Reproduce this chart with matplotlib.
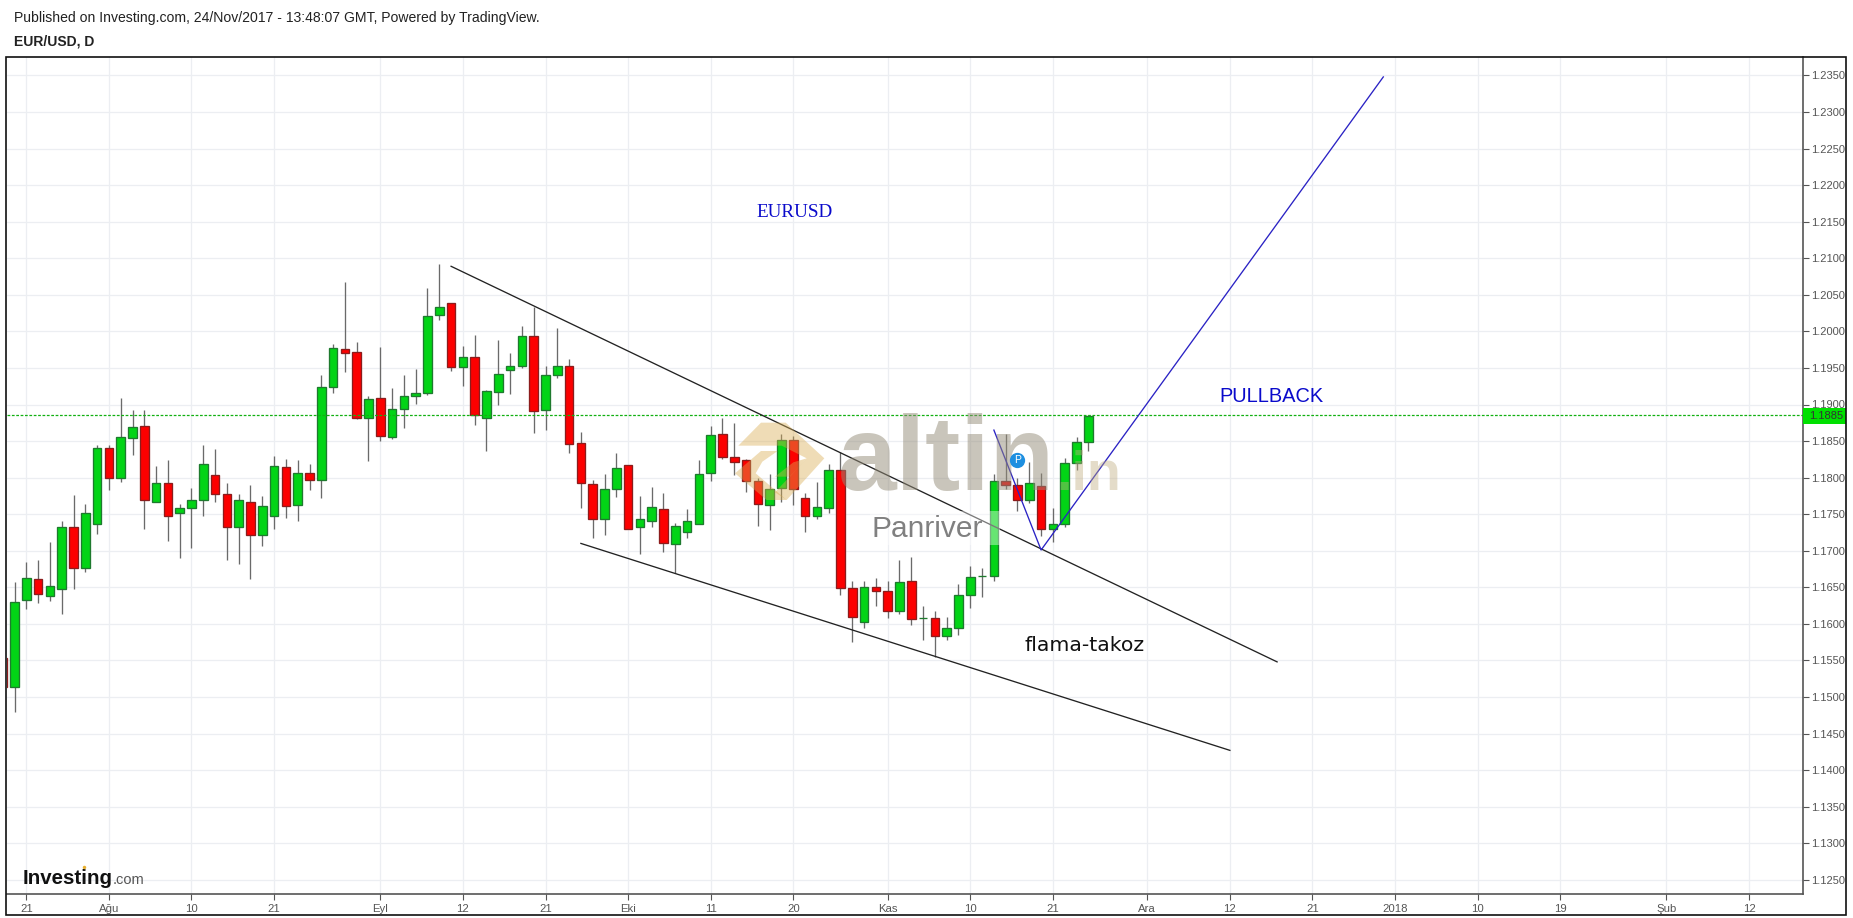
import matplotlib
matplotlib.use("Agg")
import matplotlib.pyplot as plt
from matplotlib.patches import Rectangle, Polygon

W, H = 1853, 918
plt.rcParams['font.family'] = ['Liberation Sans', 'DejaVu Sans']

first_bar = -1
opens = [1.1553,1.1513,1.1633,1.1661,1.1638,1.1648,1.1733,1.1676,1.1736,1.1840,1.1800,1.1854,1.1870,1.1766,1.1793,1.1751,1.1758,1.1770,1.1803,1.1778,1.1733,1.1766,1.1722,1.1748,1.1814,1.1762,1.1806,1.1797,1.1924,1.1976,1.1972,1.1882,1.1909,1.1856,1.1894,1.1912,1.1916,1.2022,1.2039,
         1.1951,1.1965,1.1882,1.1917,1.1947,1.1953,1.1993,1.1893,1.1940,1.1952,1.1847,1.1791,1.1744,1.1785,1.1817,1.1732,1.1741,1.1757,1.1709,1.1726,1.1737,1.1807,1.1860,1.1828,1.1824,1.1796,1.1763,1.1786,1.1852,1.1772,1.1748,1.1759,1.1810,1.1649,1.1603,1.1650,1.1645,1.1617,1.1658,1.1608,1.1608,1.1584,1.1595,1.1640,1.1665,1.1666,1.1796,1.1790,1.1770,1.1788,1.1730,1.1737,1.1820,1.1849]
highs = [1.1560,1.1657,1.1684,1.1688,1.1712,1.1741,1.1776,1.1764,1.1845,1.1845,1.1909,1.1893,1.1892,1.1816,1.1824,1.1764,1.1786,1.1845,1.1839,1.1793,1.1778,1.1790,1.1775,1.1830,1.1825,1.1824,1.1819,1.1941,1.1983,1.2067,1.1985,1.1912,1.1979,1.1922,1.1940,1.1949,1.2059,1.2092,1.2039,
         1.1980,1.1995,1.1920,1.1988,1.1970,1.2007,1.2033,1.1953,1.2005,1.1962,1.1862,1.1797,1.1805,1.1833,1.1817,1.1775,1.1787,1.1779,1.1738,1.1757,1.1824,1.1870,1.1881,1.1875,1.1825,1.1800,1.1805,1.1859,1.1857,1.1779,1.1794,1.1819,1.1835,1.1659,1.1659,1.1663,1.1659,1.1688,1.1691,1.1624,1.1617,1.1610,1.1655,1.1679,1.1676,1.1805,1.1860,1.1800,1.1822,1.1807,1.1759,1.1827,1.1856,1.1885]
lows = [1.1510,1.1479,1.1620,1.1628,1.1631,1.1613,1.1648,1.1671,1.1723,1.1783,1.1794,1.1831,1.1730,1.1766,1.1714,1.1690,1.1704,1.1747,1.1767,1.1688,1.1682,1.1662,1.1707,1.1730,1.1745,1.1741,1.1783,1.1772,1.1916,1.1945,1.1880,1.1823,1.1850,1.1853,1.1868,1.1901,1.1913,1.2015,1.1946,
        1.1925,1.1872,1.1837,1.1900,1.1915,1.1950,1.1861,1.1865,1.1936,1.1833,1.1758,1.1717,1.1721,1.1773,1.1730,1.1696,1.1733,1.1698,1.1670,1.1718,1.1737,1.1795,1.1826,1.1804,1.1781,1.1734,1.1729,1.1767,1.1763,1.1725,1.1743,1.1752,1.1640,1.1575,1.1594,1.1625,1.1608,1.1613,1.1599,1.1578,1.1555,1.1578,1.1585,1.1622,1.1637,1.1659,1.1784,1.1755,1.1765,1.1720,1.1712,1.1733,1.1811,1.1836]
closes = [1.1514,1.1630,1.1663,1.1641,1.1652,1.1733,1.1676,1.1751,1.1841,1.1800,1.1855,1.1869,1.1770,1.1793,1.1748,1.1758,1.1770,1.1819,1.1778,1.1733,1.1769,1.1722,1.1761,1.1816,1.1761,1.1806,1.1797,1.1924,1.1977,1.1970,1.1882,1.1908,1.1857,1.1894,1.1912,1.1916,1.2021,1.2033,1.1951,
          1.1965,1.1885,1.1918,1.1942,1.1953,1.1993,1.1891,1.1940,1.1953,1.1846,1.1792,1.1743,1.1785,1.1813,1.1730,1.1743,1.1760,1.1710,1.1734,1.1740,1.1805,1.1858,1.1828,1.1822,1.1796,1.1764,1.1785,1.1851,1.1784,1.1748,1.1760,1.1811,1.1649,1.1609,1.1650,1.1645,1.1617,1.1657,1.1607,1.1608,1.1584,1.1594,1.1640,1.1664,1.1666,1.1796,1.1790,1.1769,1.1793,1.1730,1.1737,1.1820,1.1849,1.1884]

price_ticks = [1.125 + 0.005 * k for k in range(23)]
date_pos = [1, 8, 15, 22, 31, 38, 45, 52, 59, 66, 74, 81, 88, 96, 103, 110, 117, 124, 131, 140, 147]
date_labels = ['21','Ağu','10','21','Eyl','12','21','Eki','11','20','Kas','10','21','Ara','12','21','2018','10','19','Şub','12']
last_price = 1.1885

upper_trend = ([37, 107], [1.2089, 1.1548])
lower_trend = ([48, 103], [1.1710, 1.1427])
pullback_path = ([83, 87, 116], [1.1865, 1.1701, 1.2348])

fig = plt.figure(figsize=(W / 100, H / 100), dpi=100, facecolor='white')

def fx(x): return x / W
def fy(y): return 1 - y / H
def fp(pts): return [(fx(a), fy(b)) for a, b in pts]

AX_L, AX_R, AX_T, AX_B = 6.5, 1802.5, 57, 894
ax = fig.add_axes([fx(AX_L), fy(AX_B), (AX_R - AX_L) / W, (AX_B - AX_T) / H])
X0, DX = 14.5, 11.8
ax.set_xlim((AX_L - X0) / DX, (AX_R - X0) / DX)
Y190, PXP = 404.5, 36.56 / 0.005
ax.set_ylim(1.19 - (AX_B - Y190) / PXP, 1.19 + (Y190 - AX_T) / PXP)

for s in ['top', 'left']:
    ax.spines[s].set_visible(False)
for s in ['right', 'bottom']:
    ax.spines[s].set_color('#555555')
    ax.spines[s].set_linewidth(1.2)
ax.yaxis.tick_right()
ax.set_yticks(price_ticks)
ax.set_yticklabels([f'{p:.4f}' for p in price_ticks])
ax.set_xticks(date_pos)
ax.set_xticklabels(date_labels)
ax.tick_params(axis='y', length=4, width=0.8, color='#555555', labelcolor='#555555', labelsize=8.0, pad=2.2)
ax.tick_params(axis='x', length=4, width=0.8, color='#555555', labelcolor='#555555', labelsize=8.2, pad=3)
ax.grid(True, color='#eceef2', linewidth=0.9, zorder=0)
ax.set_axisbelow(True)

GREEN, RED = '#02d416', '#fc0000'
EDGE_G, EDGE_R = '#1e7a2e', '#8c1c1c'
for k in range(len(opens)):
    i = first_bar + k
    o, h, l, c = opens[k], highs[k], lows[k], closes[k]
    up = c >= o
    ax.vlines(i, l, h, color='#6a6a6a', linewidth=0.95, zorder=2)
    ax.bar(i, abs(c - o), bottom=min(o, c), width=0.72,
           facecolor=GREEN if up else RED, edgecolor=EDGE_G if up else EDGE_R,
           linewidth=0.95, zorder=3)

ax.axhline(last_price, color='#12b012', linewidth=0.9, linestyle=(0, (2.2, 1.3)), zorder=4)
ax.plot(*upper_trend, color='#222222', linewidth=0.95, zorder=5)
ax.plot(*lower_trend, color='#222222', linewidth=0.95, zorder=5)
ax.plot(*pullback_path, color='#2a22c4', linewidth=0.95, zorder=7)

ax.text(66.1, 1.2163, 'EURUSD', color='#0a0acb', family='Liberation Serif', fontsize=13.8, ha='center', va='center', zorder=8)
ax.text(106.5, 1.1911, 'PULLBACK', color='#0a0acb', family='Liberation Sans', fontsize=14.4, ha='center', va='center', zorder=8)
ax.text(90.7, 1.1570, 'flama-takoz', color='#111111', family='DejaVu Sans', fontsize=14.7, ha='center', va='center', zorder=8)

# Watermark (drawn over the candles)
tan = (0.85, 0.68, 0.32)
logo1 = [(40,122),(108,53),(182,53),(298,160),(185,285),(150,262),(245,160),(170,122)]
logo2 = [(30,205),(108,138),(158,138),(112,170),(92,205),(185,285),(125,285)]
logo3 = [(150,215),(205,172),(245,160),(195,215)]
for poly in (logo1, logo2, logo3):
    fig.add_artist(Polygon(fp([(725 + a / 3, 405 + b / 3) for a, b in poly]), closed=True,
                           facecolor=tan, edgecolor='none', alpha=0.42, zorder=3))
fig.text(fx(838), fy(490), 'altin', color=(0.58, 0.55, 0.47), alpha=0.5, family='Liberation Sans',
         fontweight='bold', fontsize=76, ha='left', va='baseline', zorder=3)
fig.text(fx(1056), fy(490), '.in', color=(0.75, 0.68, 0.50), alpha=0.42, family='Liberation Sans',
         fontweight='bold', fontsize=40, ha='left', va='baseline', zorder=3)
fig.add_artist(Rectangle((fx(870), fy(545)), 130 / W, 34 / H, facecolor='white', alpha=0.4, edgecolor='none', zorder=3))
fig.text(fx(871), fy(536.7), 'Panriver', color='#808080', family='Liberation Sans', fontsize=21.5,
         ha='left', va='baseline', zorder=3.1)

# Blue "P" publish marker
fig.add_artist(plt.Line2D([fx(1017.3)], [fy(459.7)], marker='o', markersize=11, color='#1e8fe0',
                          markeredgewidth=0, zorder=4))
fig.text(fx(1017.3), fy(459.9), 'P', color='white', fontsize=7.5, ha='center', va='center', zorder=4.1)

# Price tag
fig.add_artist(Rectangle((fx(1802.5), fy(423.5)), 43 / W, 15.5 / H, facecolor='#00e000', edgecolor='none', zorder=5))
fig.text(fx(1809), fy(416), f'{last_price:.4f}', color='#333333', fontsize=8.0, ha='left', va='center', zorder=6)

# Outer frame
fig.add_artist(Rectangle((fx(6.3), fy(915.3)), (1845.7 - 6.3) / W, (915.3 - 56.7) / H, fill=False,
                         edgecolor='#111111', linewidth=1.2, zorder=6))

# Header
fig.text(fx(14.3), fy(18), 'Published on Investing.com, 24/Nov/2017 - 13:48:07 GMT, Powered by TradingView.',
         color='#222222', fontsize=10.05, ha='left', va='center')
fig.text(fx(14.3), fy(41), 'EUR/USD, D', color='#222222', fontsize=10, fontweight='bold', ha='left', va='center')

# Investing.com logo
fig.text(fx(22.5), fy(884), 'Investing', color='#111111', fontsize=14.8, fontweight='bold', ha='left', va='baseline', zorder=4)
fig.add_artist(plt.Line2D([fx(84)], [fy(867)], marker='o', markersize=2.5, color='#e8b030', markeredgewidth=0, zorder=4.1))
fig.text(fx(113), fy(884), '.com', color='#555555', fontsize=10.5, ha='left', va='baseline', zorder=4)

fig.savefig('out.png', dpi=100, facecolor='white')
